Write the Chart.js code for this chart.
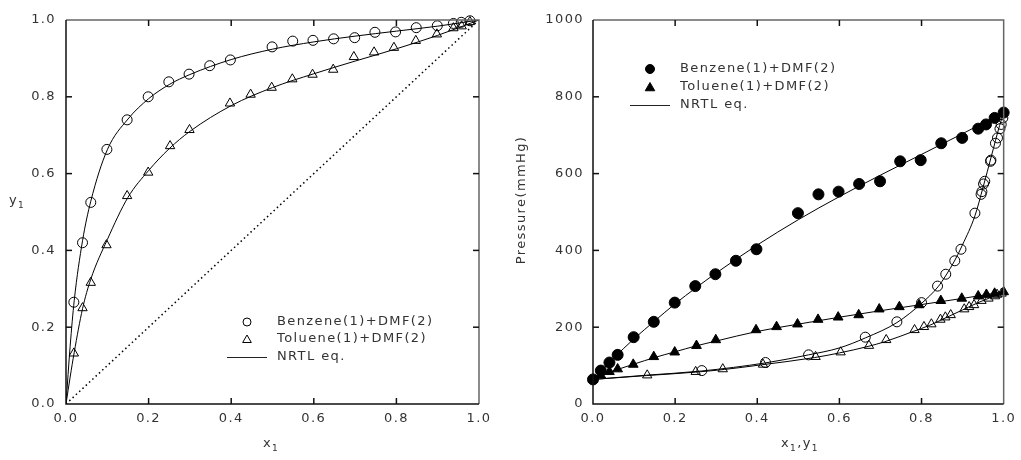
<!DOCTYPE html>
<html>
<head>
<meta charset="utf-8">
<script src="https://cdn.jsdelivr.net/npm/chart.js@4.4.1/dist/chart.umd.min.js"></script>
<style>
  html, body { margin: 0; padding: 0; background: #fff; }
  #wrap { position: relative; width: 1021px; height: 460px; overflow: hidden; }
  #left { position: absolute; left: 0; top: 0; }
  #right { position: absolute; left: 510px; top: 0; }
</style>
</head>
<body>
<div id="wrap">
  <canvas id="left" width="510" height="460"></canvas>
  <canvas id="right" width="511" height="460"></canvas>
</div>
<script>
// tick values
const fracTicks = [0, 0.2, 0.4, 0.6, 0.8, 1.0];
const pressureTicks = [0, 200, 400, 600, 800, 1000];

// legend text
const legendLabels = ['Benzene(1)+DMF(2)', 'Toluene(1)+DMF(2)', 'NRTL eq.'];

// measured points, Benzene(1)+DMF(2)
const benzeneX = [0.019, 0.04, 0.06, 0.099, 0.148, 0.199, 0.249, 0.298, 0.348, 0.398, 0.499, 0.549, 0.598, 0.648, 0.699, 0.748, 0.798, 0.848, 0.899, 0.938, 0.957, 0.978];
const benzeneY = [0.265, 0.42, 0.525, 0.663, 0.74, 0.80, 0.839, 0.859, 0.881, 0.896, 0.930, 0.945, 0.947, 0.951, 0.954, 0.968, 0.969, 0.980, 0.985, 0.991, 0.994, 0.998];
const benzeneP = [87, 108, 128, 174, 214, 264, 307, 338, 373, 403, 497, 546, 553, 573, 580, 632, 635, 679, 693, 717, 728, 745];

// measured points, Toluene(1)+DMF(2)
const tolueneX = [0.019, 0.04, 0.06, 0.098, 0.148, 0.199, 0.252, 0.299, 0.397, 0.447, 0.498, 0.548, 0.597, 0.647, 0.697, 0.746, 0.794, 0.847, 0.898, 0.938, 0.958, 0.978];
const tolueneY = [0.132, 0.25, 0.316, 0.414, 0.542, 0.603, 0.672, 0.714, 0.783, 0.806, 0.824, 0.846, 0.858, 0.871, 0.904, 0.916, 0.928, 0.946, 0.963, 0.979, 0.984, 0.995];
const tolueneP = [75, 84, 91, 103, 123, 135, 152, 167, 193, 201, 208, 220, 226, 232, 247, 253, 258, 269, 275, 281, 285, 288];

// pure component pressures (mmHg)
const pureEnds = [0, 1];
const dmfP = 64;
const benzenePure = 759;
const toluenePure = 292;

// NRTL curves
const nrtlXYx = [0, 0.01, 0.02, 0.04, 0.06, 0.1, 0.15, 0.2, 0.25, 0.3, 0.4, 0.5, 0.6, 0.7, 0.8, 0.9, 1];
const nrtlBenzeneY = [0, 0.15, 0.27, 0.425, 0.528, 0.662, 0.742, 0.795, 0.832, 0.858, 0.897, 0.924, 0.943, 0.958, 0.971, 0.984, 1];
const nrtlTolueneY = [0, 0.07, 0.135, 0.248, 0.325, 0.428, 0.538, 0.608, 0.665, 0.71, 0.777, 0.824, 0.86, 0.893, 0.925, 0.96, 1];

const nrtlBenzeneBubX = [0, 0.02, 0.05, 0.1, 0.15, 0.2, 0.25, 0.3, 0.4, 0.5, 0.6, 0.7, 0.8, 0.9, 1];
const nrtlBenzeneBubP = [64, 86, 119, 170, 216, 261, 302, 341, 414, 480, 540, 596, 650, 704, 759];
const nrtlBenzeneDewY = [0, 0.13, 0.265, 0.42, 0.525, 0.6, 0.663, 0.74, 0.8, 0.84, 0.86, 0.88, 0.9, 0.93, 0.95, 0.97, 0.99, 1];
const nrtlBenzeneDewP = [64, 75, 86, 107, 128, 146, 172, 212, 262, 305, 336, 372, 415, 490, 565, 645, 725, 759];

const nrtlTolueneBubX = [0, 0.02, 0.04, 0.06, 0.1, 0.15, 0.2, 0.25, 0.3, 0.4, 0.5, 0.6, 0.7, 0.8, 0.9, 1];
const nrtlTolueneBubP = [64, 74, 83, 90, 104, 121, 136, 151, 164, 189, 208, 226, 243, 259, 275, 292];
const nrtlTolueneDewY = [0, 0.13, 0.25, 0.32, 0.41, 0.54, 0.6, 0.67, 0.71, 0.78, 0.82, 0.86, 0.9, 0.94, 0.97, 1];
const nrtlTolueneDewP = [64, 74, 83, 90, 102, 121, 133, 150, 162, 189, 205, 225, 245, 265, 278, 292];

const diagonal = [0, 1];

const FONT = '"DejaVu Sans", sans-serif';
const TEXT = '#333';

const pts = (xs, ys) => xs.map((v, i) => ({ x: v, y: ys[i] }));

function marks(data, style, r, filled) {
  return {
    data, showLine: false, clip: false,
    pointStyle: style, pointRadius: r, pointHoverRadius: r,
    pointBorderWidth: 1, pointBorderColor: '#000',
    pointBackgroundColor: filled ? '#000' : 'rgba(0,0,0,0)'
  };
}

function curve(data, dash, width) {
  return {
    data, showLine: true, pointRadius: 0, borderWidth: width || 1,
    borderColor: '#000', borderDash: dash || [],
    cubicInterpolationMode: 'monotone', fill: false
  };
}

function richWidth(ctx, parts) {
  let w = 0;
  parts.forEach(([t, sub]) => {
    ctx.font = (sub ? '9px ' : '13px ') + FONT;
    w += ctx.measureText(t).width;
  });
  return w;
}

function drawRich(ctx, parts, x, y) {
  let cx = x;
  parts.forEach(([t, sub]) => {
    ctx.font = (sub ? '9px ' : '13px ') + FONT;
    ctx.fillText(t, cx, sub ? y + 4 : y);
    cx += ctx.measureText(t).width;
  });
}

function drawMarker(ctx, style, r, x, y, filled) {
  ctx.beginPath();
  if (style === 'circle') {
    ctx.arc(x, y, r, 0, Math.PI * 2);
  } else {
    ctx.moveTo(x, y - r);
    ctx.lineTo(x + r * 0.866, y + r / 2);
    ctx.lineTo(x - r * 0.866, y + r / 2);
    ctx.closePath();
  }
  if (filled) { ctx.fillStyle = '#000'; ctx.fill(); }
  ctx.strokeStyle = '#000';
  ctx.lineWidth = 1;
  ctx.stroke();
}

// panel-specific settings, keyed by canvas id
const panels = {
  left: {
    xTicks: fracTicks, yTicks: fracTicks,
    xTitle: { parts: [['x', false], ['1', true]], x: 271, y: 447 },
    yTitle: { parts: [['y', false], ['1', true]], x: 9, y: 204 },
    legend: { x: 247, textX: 277, ys: [322, 339, 357], r: 4, filled: false }
  },
  right: {
    xTicks: fracTicks, yTicks: pressureTicks,
    xTitle: { parts: [['x', false], ['1', true], [',', false], ['y', false], ['1', true]], x: 290, y: 447 },
    yTitle: { parts: [['Pressure(mmHg)', false]], x: 12, y: 200, rotate: true },
    legend: { x: 140, textX: 170, ys: [69, 87, 105], r: 4.5, filled: true }
  }
};

const framePlugin = {
  id: 'frame',
  beforeDraw(chart) {
    chart.ctx.letterSpacing = '1.4px';
  },
  afterDraw(chart) {
    const o = panels[chart.canvas.id];
    const ctx = chart.ctx;
    const a = chart.chartArea;
    const sx = chart.scales.x, sy = chart.scales.y;
    ctx.save();

    // frame
    ctx.lineWidth = 1.5;
    ctx.strokeStyle = '#666';
    ctx.beginPath();
    ctx.moveTo(a.left, a.top); ctx.lineTo(a.right, a.top); ctx.lineTo(a.right, a.bottom);
    ctx.stroke();
    ctx.strokeStyle = '#111';
    ctx.beginPath();
    ctx.moveTo(a.left, a.top); ctx.lineTo(a.left, a.bottom); ctx.lineTo(a.right, a.bottom);
    ctx.stroke();

    // inward tick marks on all four sides
    ctx.fillStyle = '#111';
    for (let i = 1; i < o.xTicks.length - 1; i++) {
      const px = sx.getPixelForValue(o.xTicks[i]);
      ctx.fillRect(px - 0.75, a.bottom - 6, 1.5, 6);
      ctx.fillRect(px - 0.75, a.top, 1.5, 6);
    }
    for (let i = 1; i < o.yTicks.length - 1; i++) {
      const py = sy.getPixelForValue(o.yTicks[i]);
      ctx.fillRect(a.left, py - 0.75, 6, 1.5);
      ctx.fillRect(a.right - 6, py - 0.75, 6, 1.5);
    }

    ctx.fillStyle = TEXT;
    ctx.textAlign = 'left';
    ctx.textBaseline = 'alphabetic';

    // x axis title
    const xw = richWidth(ctx, o.xTitle.parts);
    drawRich(ctx, o.xTitle.parts, o.xTitle.x - xw / 2, o.xTitle.y);

    // y axis title
    if (o.yTitle.rotate) {
      ctx.save();
      ctx.translate(o.yTitle.x, o.yTitle.y);
      ctx.rotate(-Math.PI / 2);
      ctx.textBaseline = 'middle';
      const yw = richWidth(ctx, o.yTitle.parts);
      drawRich(ctx, o.yTitle.parts, -yw / 2, 0);
      ctx.restore();
    } else {
      drawRich(ctx, o.yTitle.parts, o.yTitle.x, o.yTitle.y);
    }

    // legend
    const L = o.legend;
    drawMarker(ctx, 'circle', L.r, L.x, L.ys[0], L.filled);
    drawMarker(ctx, 'triangle', L.r + 1, L.x, L.ys[1] + 1, L.filled);
    ctx.beginPath();
    ctx.strokeStyle = '#222';
    ctx.lineWidth = 1;
    ctx.moveTo(L.x - 20, L.ys[2] + 0.5);
    ctx.lineTo(L.x + 20, L.ys[2] + 0.5);
    ctx.stroke();
    ctx.textBaseline = 'middle';
    ctx.font = '13px ' + FONT;
    ctx.fillStyle = TEXT;
    legendLabels.forEach((t, i) => ctx.fillText(t, L.textX, L.ys[i]));
    ctx.restore();
  }
};

Chart.defaults.font.family = FONT;
Chart.defaults.font.size = 13;
Chart.defaults.color = TEXT;

function axis(vals, fmt, pad, fit) {
  return {
    type: 'linear', min: vals[0], max: vals[vals.length - 1],
    grid: { display: false, drawTicks: false, tickLength: 0 },
    border: { display: false },
    ticks: { padding: pad, color: TEXT, font: { size: 13 }, callback: fmt },
    afterBuildTicks: s => { s.ticks = vals.map(v => ({ value: v })); },
    afterFit: fit
  };
}

const fix1 = v => v.toFixed(1);

new Chart(document.getElementById('left'), {
  type: 'scatter',
  data: {
    datasets: [
      marks(pts(benzeneX, benzeneY), 'circle', 5, false),
      marks(pts(tolueneX, tolueneY), 'triangle', 5.4, false),
      curve(pts(nrtlXYx, nrtlBenzeneY)),
      curve(pts(nrtlXYx, nrtlTolueneY)),
      curve(pts(diagonal, diagonal), [1.5, 3], 1.5)
    ]
  },
  options: {
    responsive: false,
    animation: false,
    events: [],
    layout: { padding: { left: 0, right: 31, top: 20, bottom: 0 } },
    scales: {
      x: axis(fracTicks, fix1, 7, s => { s.height = 56; }),
      y: axis(fracTicks, fix1, 10, s => { s.width = 66; })
    },
    plugins: { legend: { display: false }, tooltip: { enabled: false } }
  },
  plugins: [framePlugin]
});

new Chart(document.getElementById('right'), {
  type: 'scatter',
  data: {
    datasets: [
      marks(pts([pureEnds[0], ...benzeneX, pureEnds[1]], [dmfP, ...benzeneP, benzenePure]), 'circle', 5.5, true),
      marks(pts(benzeneY, benzeneP), 'circle', 5, false),
      marks(pts([pureEnds[0], ...tolueneX, pureEnds[1]], [dmfP, ...tolueneP, toluenePure]), 'triangle', 5.6, true),
      marks(pts(tolueneY, tolueneP), 'triangle', 5.4, false),
      curve(pts(nrtlBenzeneBubX, nrtlBenzeneBubP)),
      curve(pts(nrtlBenzeneDewY, nrtlBenzeneDewP)),
      curve(pts(nrtlTolueneBubX, nrtlTolueneBubP)),
      curve(pts(nrtlTolueneDewY, nrtlTolueneDewP))
    ]
  },
  options: {
    responsive: false,
    animation: false,
    events: [],
    layout: { padding: { left: 0, right: 14, top: 20, bottom: 0 } },
    scales: {
      x: axis(fracTicks, fix1, 7, s => { s.height = 56; }),
      y: axis(pressureTicks, v => String(v), 9, s => { s.width = 83; })
    },
    plugins: { legend: { display: false }, tooltip: { enabled: false } }
  },
  plugins: [framePlugin]
});
</script>
</body>
</html>
